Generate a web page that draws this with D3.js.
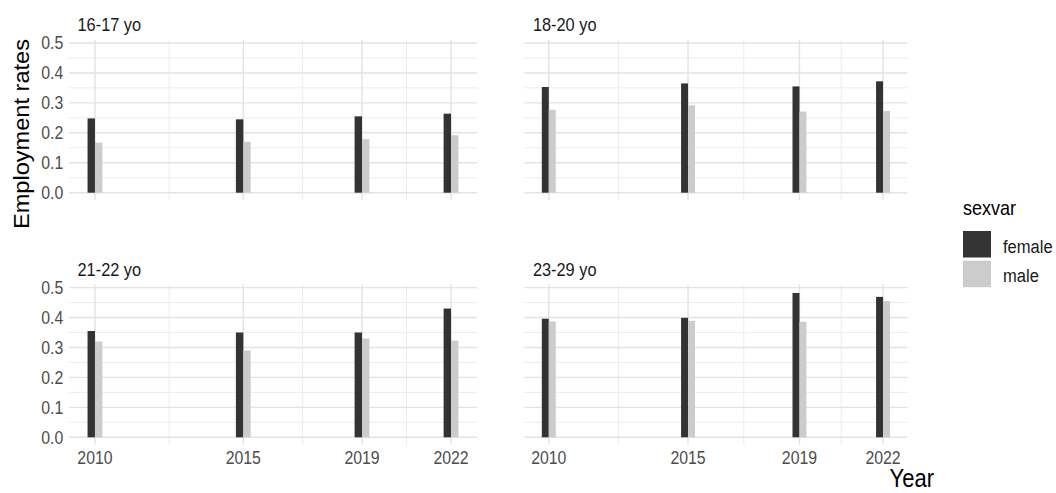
<!DOCTYPE html>
<html>
<head>
<meta charset="utf-8">
<script src="https://cdn.jsdelivr.net/npm/d3@7"></script>
<style>
  html, body { margin: 0; padding: 0; background: #fff; }
  svg { display: block; }
  text { font-family: "Liberation Sans", Arial, sans-serif; }
</style>
</head>
<body>
<svg id="chart" width="1056" height="493"></svg>
<script>
// Employment rates by age group and sex
const years = [2010, 2015, 2019, 2022];
const ageGroups = ["16-17 yo", "18-20 yo", "21-22 yo", "23-29 yo"];
const sexes = ["female", "male"];
const femaleRates = [
  [0.248, 0.245, 0.255, 0.264],
  [0.353, 0.365, 0.355, 0.372],
  [0.355, 0.350, 0.350, 0.430],
  [0.396, 0.399, 0.482, 0.469]
];
const maleRates = [
  [0.167, 0.170, 0.179, 0.192],
  [0.277, 0.292, 0.271, 0.273],
  [0.320, 0.290, 0.330, 0.323],
  [0.387, 0.389, 0.386, 0.455]
];
const yTicks = [0, 0.1, 0.2, 0.3, 0.4, 0.5];
const yMinor = [0.05, 0.15, 0.25, 0.35, 0.45];
const xMinor = [2012.5, 2017, 2020.5];

const colors = { female: "#333333", male: "#cccccc" };
const squeeze = 0.88;          // horizontal text compression
const barW = 0.25;             // dodge width per bar, in years

const svg = d3.select("#chart");

// facet layout: two columns, two rows
const cols = [[69, 477], [524.4, 907.4]];
const rows = [[40, 200], [284.6, 444.6]];

function label(g, x, y, str, opts) {
  const o = Object.assign({ size: 18, fill: "#4d4d4d", anchor: "start", rotate: false, sq: squeeze }, opts || {});
  const t = g.append("text")
    .attr("transform", o.rotate
      ? `translate(${x},${y}) rotate(-90) scale(1,${o.sq})`
      : `translate(${x},${y}) scale(${o.sq},1)`)
    .attr("font-size", o.size)
    .attr("fill", o.fill)
    .attr("text-anchor", o.anchor)
    .text(str);
  return t;
}

ageGroups.forEach((grp, i) => {
  const col = i % 2, row = Math.floor(i / 2);
  const x = d3.scaleLinear().domain([2009.125, 2022.875]).range(cols[col]);
  const y = d3.scaleLinear().domain([-0.0244, 0.510]).range([rows[row][1], rows[row][0]]);
  const g = svg.append("g");

  // minor grid
  g.selectAll(".hmin").data(yMinor).join("line")
    .attr("x1", cols[col][0]).attr("x2", cols[col][1])
    .attr("y1", d => y(d)).attr("y2", d => y(d))
    .attr("stroke", "#ececec").attr("stroke-width", 1);
  g.selectAll(".vmin").data(xMinor).join("line")
    .attr("y1", rows[row][0]).attr("y2", rows[row][1])
    .attr("x1", d => x(d)).attr("x2", d => x(d))
    .attr("stroke", "#ececec").attr("stroke-width", 1);
  // major grid
  g.selectAll(".hmaj").data(yTicks).join("line")
    .attr("x1", cols[col][0]).attr("x2", cols[col][1])
    .attr("y1", d => y(d)).attr("y2", d => y(d))
    .attr("stroke", "#e3e3e3").attr("stroke-width", 1.4);
  g.selectAll(".vmaj").data(years).join("line")
    .attr("y1", rows[row][0]).attr("y2", rows[row][1])
    .attr("x1", d => x(d)).attr("x2", d => x(d))
    .attr("stroke", "#e3e3e3").attr("stroke-width", 1.4);

  // dodged bars
  const bars = [];
  years.forEach((yr, j) => {
    bars.push({ sex: "female", year: yr, v: femaleRates[i][j], x0: yr - barW });
    bars.push({ sex: "male", year: yr, v: maleRates[i][j], x0: yr });
  });
  g.selectAll(".bar").data(bars).join("rect")
    .attr("x", d => x(d.x0))
    .attr("width", d => x(d.x0 + barW) - x(d.x0))
    .attr("y", d => y(d.v))
    .attr("height", d => y(0) - y(d.v))
    .attr("fill", d => colors[d.sex]);

  // strip label
  label(g, cols[col][0] + 8.5, rows[row][0] - 9, grp, { size: 18.6, fill: "#1a1a1a" });

  // y tick labels on left column
  if (col === 0) {
    yTicks.forEach(v => {
      label(g, cols[col][0] - 5.7, y(v) + 6.3, d3.format(".1f")(v), { anchor: "end" });
    });
  }
  // x tick labels on bottom row
  if (row === 1) {
    years.forEach(yr => {
      label(g, x(yr), rows[row][1] + 19.4, String(yr), { anchor: "middle" });
    });
  }
});

// axis titles
label(svg, 28.5, 134, "Employment rates", { size: 23.6, fill: "#000", anchor: "middle", rotate: true, sq: 0.97 });
label(svg, 934, 487, "Year", { size: 25, fill: "#000", anchor: "end" });

// legend
const lg = svg.append("g");
label(lg, 963, 215, "sexvar", { size: 20.5, fill: "#000" });
sexes.forEach((s, k) => {
  lg.append("rect")
    .attr("x", 963).attr("y", 231 + k * 29.7)
    .attr("width", 28).attr("height", 26.5)
    .attr("fill", colors[s]);
  label(lg, 1003, 253.4 + k * 28.3, s, { size: 18.8, fill: "#1a1a1a" });
});
</script>
</body>
</html>
